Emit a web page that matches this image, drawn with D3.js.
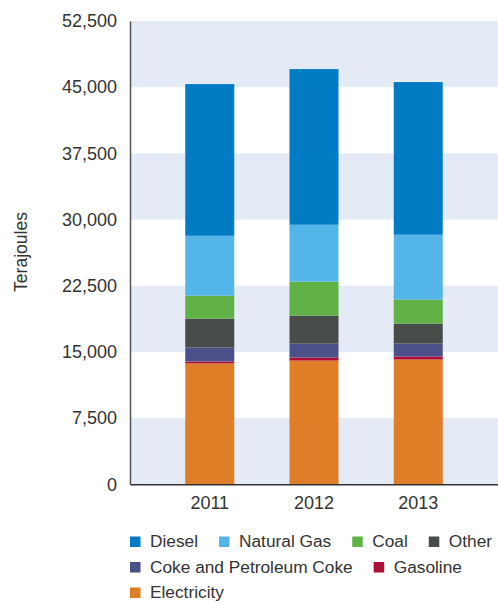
<!DOCTYPE html>
<html>
<head>
<meta charset="utf-8">
<script src="https://cdn.jsdelivr.net/npm/d3@7"></script>
<style>
  body { margin: 0; background: #fff; }
  text { font-family: "Liberation Sans", Arial, sans-serif; fill: #333; }
</style>
</head>
<body>
<script>
// chart values
const years = ["2011", "2012", "2013"];
const fuels = ["Electricity", "Gasoline", "Coke and Petroleum Coke", "Other", "Coal", "Natural Gas", "Diesel"];
const electricity = [13690, 14020, 14140];
const gasoline = [230, 340, 340];
const coke = [1580, 1580, 1470];
const other = [3280, 3170, 2260];
const coal = [2600, 3850, 2720];
const naturalGas = [6780, 6450, 7350];
const diesel = [17190, 17640, 17300];
const yTicks = [0, 7500, 15000, 22500, 30000, 37500, 45000, 52500];
const legendOrder = ["Diesel", "Natural Gas", "Coal", "Other", "Coke and Petroleum Coke", "Gasoline", "Electricity"];

const colors = {
    "Diesel": "#027bc5",
    "Natural Gas": "#54b6e8",
    "Coal": "#60b246",
    "Other": "#474c48",
    "Coke and Petroleum Coke": "#4c5089",
    "Gasoline": "#ac0e35",
    "Electricity": "#e07e27"
};

let width = 498,
    height = 602,
    plotLeft = 130,
    plotRight = 498,
    plotTop = 21,
    plotBottom = 484.3;

let rows = years.map(function(yr, i) {
    return {
        year: yr,
        "Electricity": electricity[i],
        "Gasoline": gasoline[i],
        "Coke and Petroleum Coke": coke[i],
        "Other": other[i],
        "Coal": coal[i],
        "Natural Gas": naturalGas[i],
        "Diesel": diesel[i]
    };
});

let stacked = d3.stack().keys(fuels)(rows);

let x = d3.scaleBand()
    .domain(years)
    .range([plotLeft, plotRight])
    .paddingInner(0.53)
    .paddingOuter(0.53);

let y = d3.scaleLinear()
    .domain([0, 52500])
    .range([plotBottom, plotTop]);

let svg = d3.select("body").append("svg")
    .attr("width", width)
    .attr("height", height);

// alternating background bands
svg.append("g").selectAll("rect")
    .data(yTicks.slice(0, -1).filter(function(d, i) { return i % 2 === 0; }))
    .enter().append("rect")
    .attr("x", plotLeft)
    .attr("width", plotRight - plotLeft)
    .attr("y", function(d) { return y(d + 7500); })
    .attr("height", function(d) { return y(d) - y(d + 7500); })
    .attr("fill", "#e4ebf6");

svg.append("g").selectAll("g")
    .data(stacked)
    .enter().append("g")
    .attr("fill", function(d) { return colors[d.key]; })
    .selectAll("rect")
    .data(function(d) { return d; })
    .enter().append("rect")
    .attr("x", function(d) { return x(d.data.year); })
    .attr("width", x.bandwidth())
    .attr("y", function(d) { return y(d[1]); })
    .attr("height", function(d) { return y(d[0]) - y(d[1]); });

// axes
let yAxis = svg.append("g")
    .attr("transform", "translate(" + plotLeft + ",0)")
    .call(d3.axisLeft(y).tickValues(yTicks).tickSize(0).tickPadding(13).tickFormat(d3.format(",")));
yAxis.select(".domain").attr("stroke", "#555").attr("stroke-width", 1.5);
yAxis.selectAll("text").style("font-size", "18px").attr("fill", "#333");

let xAxis = svg.append("g")
    .attr("transform", "translate(0," + plotBottom + ")")
    .call(d3.axisBottom(x).tickSize(0).tickPadding(12));
xAxis.select(".domain").attr("stroke", "#333").attr("stroke-width", 1.5);
xAxis.selectAll("text").style("font-size", "18px").attr("fill", "#333");

svg.append("text")
    .attr("transform", "translate(27,252) rotate(-90)")
    .attr("text-anchor", "middle")
    .style("font-size", "17.5px")
    .text("Terajoules");

// legend, flowing left to right
let lx = 130, ly = 547;
legendOrder.forEach(function(name) {
    let g = svg.append("g");
    let t = g.append("text")
        .style("font-size", "17.3px")
        .text(name);
    let w = t.node().getComputedTextLength();
    if (lx + 20 + w > width) { lx = 130; ly += 25.5; }
    g.append("rect")
        .attr("x", lx)
        .attr("y", ly - 10.5)
        .attr("width", 10.5)
        .attr("height", 10.5)
        .attr("fill", colors[name]);
    t.attr("x", lx + 20).attr("y", ly);
    lx += 20 + w + 21;
});
</script>
</body>
</html>
